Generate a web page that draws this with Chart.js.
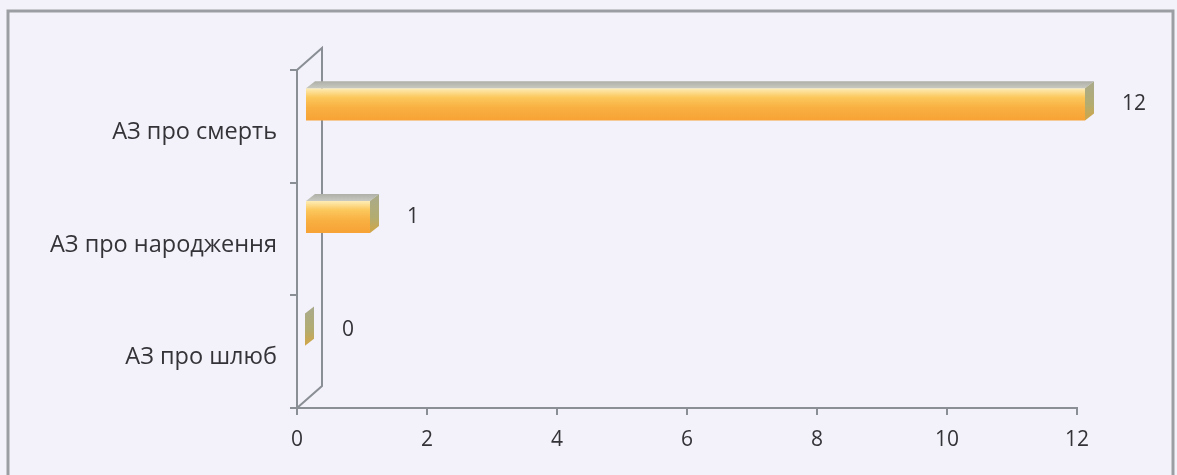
<!DOCTYPE html>
<html>
<head>
<meta charset="utf-8">
<script src="https://cdn.jsdelivr.net/npm/chart.js@4.4.1/dist/chart.umd.min.js"></script>
<style>
  html, body { margin: 0; padding: 0; background: #f3f2fa; }
  canvas { display: block; }
</style>
</head>
<body>
<canvas id="chart" width="1177" height="475"></canvas>
<script>
"use strict";

const categories = ['АЗ про смерть', 'АЗ про народження', 'АЗ про шлюб'];
const values = [12, 1, 0];
const xTicks = [0, 2, 4, 6, 8, 10, 12];

const axisColor = '#8a8f95';
const textColor = '#333338';
const fontFamily = "'Open Sans', 'Noto Sans', sans-serif";
const barPct = 0.286;

// 3d look: how far the bars sit back from the front plane, and depth of the bar itself
const barShift = { x: 8, y: -22 };
const barDepth = { x: 9, y: 7 };
const wallDepth = { x: 25, y: 22 };

// front face gradient, per bar (coords are the untranslated bar coords)
function frontFill(ctx) {
    const ys = ctx.chart.scales.y;
    if (!ys || ctx.dataIndex === undefined) return '#f9b445';
    const mid = ys.getPixelForValue(ctx.dataIndex);
    const half = (ys.height / categories.length) * barPct / 2;
    if (!isFinite(mid) || !isFinite(half) || half <= 0) return '#f9b445';
    const g = ctx.chart.ctx.createLinearGradient(0, mid - half, 0, mid + half);
    g.addColorStop(0, '#fdeeb8');
    g.addColorStop(0.28, '#fcc85c');
    g.addColorStop(0.6, '#f9b042');
    g.addColorStop(1, '#f7a234');
    return g;
}

const frame = {
    id: 'frame',
    beforeDraw(chart) {
        const c = chart.ctx;
        c.save();
        c.fillStyle = '#f3f2fa';
        c.fillRect(0, 0, chart.width, chart.height);
        c.strokeStyle = '#9b9fa4';
        c.lineWidth = 3;
        c.beginPath();
        c.moveTo(8, chart.height);
        c.lineTo(8, 11);
        c.lineTo(1173, 11);
        c.lineTo(1173, chart.height);
        c.stroke();

        // back wall of the 3d plot
        const xs = chart.scales.x, ys = chart.scales.y;
        const x0 = xs.getPixelForValue(0);
        c.strokeStyle = axisColor;
        c.lineWidth = 2;
        c.beginPath();
        c.moveTo(x0, ys.top);
        c.lineTo(x0 + wallDepth.x, ys.top - wallDepth.y);
        c.lineTo(x0 + wallDepth.x, ys.bottom - wallDepth.y);
        c.lineTo(x0, ys.bottom);
        c.stroke();
        c.restore();
    },
    beforeDatasetsDraw(chart) {
        chart.ctx.save();
        chart.ctx.translate(barShift.x, barShift.y);
    },
    afterDatasetsDraw(chart) {
        const c = chart.ctx;
        const meta = chart.getDatasetMeta(0);
        meta.data.forEach(function(bar, i) {
            const top = bar.y - bar.height / 2;
            const bottom = bar.y + bar.height / 2;
            const left = bar.base, right = bar.x;
            const dx = barDepth.x, dy = barDepth.y;

            // top face
            if (right > left) {
                const gt = c.createLinearGradient(0, top - dy, 0, top);
                gt.addColorStop(0, '#aeb0a8');
                gt.addColorStop(1, '#c8cac1');
                c.fillStyle = gt;
                c.beginPath();
                c.moveTo(left, top);
                c.lineTo(left + dx, top - dy);
                c.lineTo(right + dx, top - dy);
                c.lineTo(right, top);
                c.closePath();
                c.fill();
            }
            // side face
            const gs = c.createLinearGradient(0, top - dy, 0, bottom);
            gs.addColorStop(0, '#a9aa8c');
            gs.addColorStop(0.6, '#b3ac70');
            gs.addColorStop(1, '#d3a544');
            c.fillStyle = gs;
            c.beginPath();
            c.moveTo(right, top);
            c.lineTo(right + dx, top - dy);
            c.lineTo(right + dx, bottom - dy);
            c.lineTo(right, bottom);
            c.closePath();
            c.fill();

            // value label
            c.fillStyle = textColor;
            c.font = '21px ' + fontFamily;
            c.textAlign = 'left';
            c.textBaseline = 'middle';
            c.fillText(String(values[i]), right + dx + 28, bar.y);
        });
        c.restore();
    }
};

new Chart(document.getElementById('chart'), {
    type: 'bar',
    data: {
        labels: categories,
        datasets: [{
            data: values,
            backgroundColor: frontFill,
            borderWidth: 0,
            barPercentage: barPct,
            categoryPercentage: 1
        }]
    },
    options: {
        indexAxis: 'y',
        responsive: false,
        animation: false,
        layout: {
            padding: { top: 70, right: 100, left: 0, bottom: 0 }
        },
        plugins: {
            legend: { display: false },
            tooltip: { enabled: false }
        },
        scales: {
            x: {
                min: 0,
                max: 12,
                afterBuildTicks: function(scale) {
                    scale.ticks = xTicks.map(function(v) { return { value: v }; });
                },
                afterFit: function(scale) { scale.height = 67; },
                border: { display: true, color: axisColor, width: 2 },
                grid: {
                    drawOnChartArea: false,
                    drawTicks: true,
                    tickLength: 7,
                    color: axisColor,
                    lineWidth: 2
                },
                ticks: {
                    color: textColor,
                    padding: 12,
                    maxRotation: 0,
                    font: { family: fontFamily, size: 21 }
                }
            },
            y: {
                afterFit: function(scale) { scale.width = 297; },
                border: { display: true, color: axisColor, width: 2 },
                grid: {
                    offset: true,
                    drawOnChartArea: false,
                    drawTicks: true,
                    tickLength: 7,
                    color: axisColor,
                    lineWidth: 2
                },
                ticks: {
                    color: textColor,
                    padding: 13,
                    labelOffset: 6,
                    font: { family: fontFamily, size: 23.5 }
                }
            }
        }
    },
    plugins: [frame]
});
</script>
</body>
</html>
